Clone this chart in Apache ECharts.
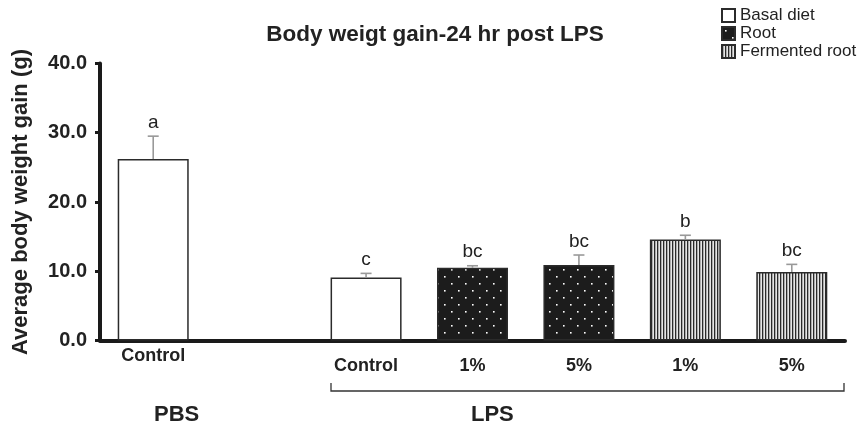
<!DOCTYPE html>
<html>
<head>
<meta charset="utf-8">
<script src="https://cdn.jsdelivr.net/npm/echarts@6/dist/echarts.min.js"></script>
<style>html,body{margin:0;padding:0;background:#fff}#c{width:863px;height:432px}</style>
</head>
<body>
<div id="c"></div>
<script>
var categories = ['Control', '', 'Control', '1%', '5%', '1%', '5%'];
var basalDiet = [26.2, null, 9.1, null, null, null, null];
var root = [null, null, null, 10.5, 10.9, null, null];
var fermentedRoot = [null, null, null, null, null, 14.6, 9.9];
var errorTop = [29.5, null, 9.7, 10.8, 12.35, 15.2, 11.0];
var letters = ['a', '', 'c', 'bc', 'bc', 'b', 'bc'];
var yTicks = [0, 10, 20, 30, 40];

var FONT = '"Liberation Sans", Arial, sans-serif';

function dotPattern() {
  var c = document.createElement('canvas');
  c.width = 14; c.height = 14;
  var g = c.getContext('2d');
  g.fillStyle = '#1c1c1c'; g.fillRect(0, 0, 14, 14);
  g.fillStyle = '#ffffff';
  g.fillRect(3, 3, 1.6, 1.6);
  g.fillRect(10, 10, 1.6, 1.6);
  return c;
}
function stripePattern() {
  var c = document.createElement('canvas');
  c.width = 3; c.height = 3;
  var g = c.getContext('2d');
  g.fillStyle = '#e6e6e6'; g.fillRect(0, 0, 3, 3);
  g.fillStyle = '#2a2a2a'; g.fillRect(0, 0, 1.3, 3);
  return c;
}

var errData = [];
for (var i = 0; i < categories.length; i++) {
  var v = basalDiet[i] != null ? basalDiet[i] : (root[i] != null ? root[i] : fermentedRoot[i]);
  if (v != null) errData.push([i, v, errorTop[i], letters[i]]);
}

var chart = echarts.init(document.getElementById('c'));
var barBorder = { borderColor: '#2b2b2b', borderWidth: 1.5 };
chart.setOption({
  animation: false,
  textStyle: { fontFamily: FONT },
  title: {
    text: 'Body weigt gain-24 hr post LPS',
    left: 430, top: 18, textAlign: 'center',
    textStyle: { fontFamily: FONT, fontSize: 22.5, fontWeight: 'bold', color: '#222' }
  },
  legend: {
    orient: 'vertical', left: 716, top: 2, itemGap: 1, padding: 5,
    itemWidth: 13, itemHeight: 13, icon: 'rect',
    textStyle: { fontFamily: FONT, fontSize: 17, color: '#222', lineHeight: 17 },
    data: ['Basal diet', 'Root', 'Fermented root']
  },
  grid: { left: 100, right: 18, top: 63.4, bottom: 91.4 },
  xAxis: {
    type: 'category', data: categories,
    axisLine: { lineStyle: { color: '#1a1a1a', width: 4 } },
    axisTick: { alignWithLabel: true, length: 5, lineStyle: { color: '#1a1a1a', width: 3 } },
    axisLabel: {
      margin: 6, interval: 0,
      formatter: function (val, idx) { return idx === 0 ? '{p|' + val + '}' : '{l|' + val + '}'; },
      rich: {
        p: { fontFamily: FONT, fontSize: 18, fontWeight: 'bold', color: '#222' },
        l: { fontFamily: FONT, fontSize: 18, fontWeight: 'bold', color: '#222', padding: [10, 0, 0, 0] }
      }
    }
  },
  yAxis: {
    type: 'value', min: yTicks[0], max: yTicks[yTicks.length - 1], interval: 10,
    name: 'Average body weight gain (g)', nameLocation: 'middle', nameGap: 68,
    nameTextStyle: { fontFamily: FONT, fontSize: 22, fontWeight: 'bold', color: '#222' },
    axisLine: { show: true, lineStyle: { color: '#1a1a1a', width: 4 } },
    axisTick: { show: true, length: 5, lineStyle: { color: '#1a1a1a', width: 3 } },
    splitLine: { show: false },
    axisLabel: {
      margin: 13, fontFamily: FONT, fontSize: 20, fontWeight: 'bold', color: '#222',
      formatter: function (v) { return v.toFixed(1); }
    }
  },
  series: [
    { name: 'Basal diet', type: 'bar', data: basalDiet, barWidth: 71, barGap: '-100%',
      itemStyle: Object.assign({ color: '#ffffff' }, barBorder) },
    { name: 'Root', type: 'bar', data: root, barWidth: 71, barGap: '-100%',
      itemStyle: Object.assign({ color: { image: dotPattern(), repeat: 'repeat' } }, barBorder) },
    { name: 'Fermented root', type: 'bar', data: fermentedRoot, barWidth: 71, barGap: '-100%',
      itemStyle: Object.assign({ color: { image: stripePattern(), repeat: 'repeat' } }, barBorder) },
    {
      type: 'custom', data: errData, z: 5,
      renderItem: function (params, api) {
        var x = api.value(0);
        var b = api.coord([x, api.value(1)]);
        var t = api.coord([x, api.value(2)]);
        var st = { stroke: '#999', lineWidth: 1.6 };
        return {
          type: 'group', children: [
            { type: 'line', shape: { x1: b[0], y1: b[1], x2: t[0], y2: t[1] }, style: st },
            { type: 'line', shape: { x1: t[0] - 5.5, y1: t[1], x2: t[0] + 5.5, y2: t[1] }, style: st },
            { type: 'text', x: t[0], y: t[1] - 4,
              style: { text: api.value(3), fontFamily: FONT, fontSize: 19, fill: '#222', align: 'center', verticalAlign: 'bottom' } }
          ]
        };
      }
    }
  ],
  graphic: [
    { type: 'text', left: 154, top: 404, style: { text: 'PBS', fontFamily: FONT, fontSize: 22, fontWeight: 'bold', fill: '#222', align: 'center' } },
    { type: 'text', left: 471, top: 404, style: { text: 'LPS', fontFamily: FONT, fontSize: 22, fontWeight: 'bold', fill: '#222', align: 'center' } },
    { type: 'polyline', shape: { points: [[331, 383], [331, 391], [844, 391], [844, 383]] },
      style: { stroke: '#333', lineWidth: 1.3, fill: null } }
  ]
});
</script>
</body>
</html>
